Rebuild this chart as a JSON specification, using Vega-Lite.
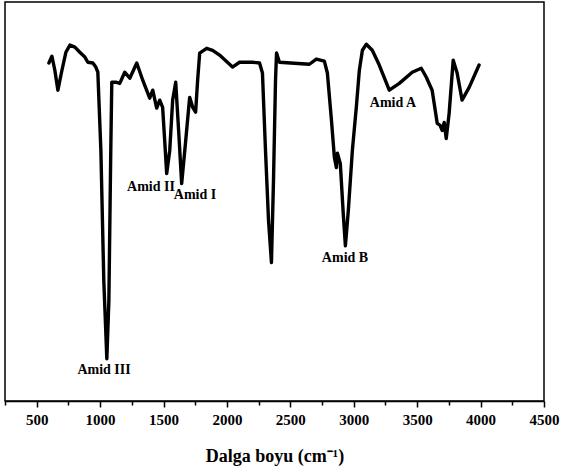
{
  "$schema": "https://vega.github.io/schema/vega-lite/v6.json",
  "width": 539,
  "height": 399,
  "autosize": {"type": "none"},
  "padding": {"left": 5, "top": 2, "right": 17, "bottom": 70},
  "background": "white",
  "config": {"view": {"stroke": "black", "strokeWidth": 1.5}},
  "datasets": {
    "spectrum": [
      {"wn": 596, "T": 84.7}, {"wn": 620, "T": 86.4}, {"wn": 643, "T": 82.9}, {"wn": 667, "T": 77.9},
      {"wn": 699, "T": 82.9}, {"wn": 730, "T": 87.4}, {"wn": 762, "T": 89.2}, {"wn": 801, "T": 88.7},
      {"wn": 840, "T": 87.4}, {"wn": 880, "T": 86.2}, {"wn": 903, "T": 84.9}, {"wn": 943, "T": 84.7},
      {"wn": 966, "T": 83.7}, {"wn": 982, "T": 82.4}, {"wn": 1006, "T": 62.8}, {"wn": 1029, "T": 30.2},
      {"wn": 1053, "T": 10.6}, {"wn": 1069, "T": 25.1}, {"wn": 1084, "T": 62.8}, {"wn": 1092, "T": 79.9},
      {"wn": 1124, "T": 79.9}, {"wn": 1155, "T": 79.6}, {"wn": 1194, "T": 82.4}, {"wn": 1234, "T": 80.9},
      {"wn": 1289, "T": 84.7}, {"wn": 1336, "T": 80.4}, {"wn": 1391, "T": 75.9}, {"wn": 1415, "T": 77.9},
      {"wn": 1446, "T": 73.4}, {"wn": 1470, "T": 75.4}, {"wn": 1493, "T": 73.6}, {"wn": 1509, "T": 65.3},
      {"wn": 1525, "T": 57.0}, {"wn": 1549, "T": 62.8}, {"wn": 1572, "T": 75.4}, {"wn": 1596, "T": 79.9},
      {"wn": 1619, "T": 67.8}, {"wn": 1643, "T": 54.5}, {"wn": 1675, "T": 65.3}, {"wn": 1706, "T": 76.1},
      {"wn": 1730, "T": 73.6}, {"wn": 1753, "T": 72.4}, {"wn": 1769, "T": 80.4}, {"wn": 1785, "T": 87.2},
      {"wn": 1840, "T": 88.4}, {"wn": 1887, "T": 87.9}, {"wn": 1942, "T": 86.7}, {"wn": 2044, "T": 83.7},
      {"wn": 2099, "T": 84.9}, {"wn": 2202, "T": 84.9}, {"wn": 2257, "T": 84.7}, {"wn": 2280, "T": 82.2},
      {"wn": 2304, "T": 62.8}, {"wn": 2328, "T": 45.2}, {"wn": 2351, "T": 34.7}, {"wn": 2367, "T": 55.3},
      {"wn": 2383, "T": 80.4}, {"wn": 2391, "T": 87.2}, {"wn": 2414, "T": 84.9}, {"wn": 2650, "T": 84.4},
      {"wn": 2705, "T": 85.7}, {"wn": 2768, "T": 85.2}, {"wn": 2792, "T": 82.2}, {"wn": 2824, "T": 70.4},
      {"wn": 2847, "T": 61.1}, {"wn": 2863, "T": 58.5}, {"wn": 2871, "T": 62.1}, {"wn": 2894, "T": 59.5},
      {"wn": 2918, "T": 46.5}, {"wn": 2934, "T": 38.9}, {"wn": 2957, "T": 47.7}, {"wn": 2989, "T": 62.8},
      {"wn": 3020, "T": 73.6}, {"wn": 3044, "T": 82.9}, {"wn": 3068, "T": 87.9}, {"wn": 3099, "T": 89.4},
      {"wn": 3146, "T": 87.9}, {"wn": 3201, "T": 84.2}, {"wn": 3280, "T": 77.9}, {"wn": 3359, "T": 79.6},
      {"wn": 3461, "T": 82.4}, {"wn": 3532, "T": 83.4}, {"wn": 3571, "T": 81.2}, {"wn": 3618, "T": 77.9},
      {"wn": 3658, "T": 69.6}, {"wn": 3681, "T": 69.1}, {"wn": 3697, "T": 67.8}, {"wn": 3713, "T": 69.8},
      {"wn": 3729, "T": 65.8}, {"wn": 3752, "T": 72.1}, {"wn": 3784, "T": 85.4}, {"wn": 3815, "T": 82.2},
      {"wn": 3854, "T": 75.4}, {"wn": 3910, "T": 78.6}, {"wn": 3988, "T": 84.2}
    ],
    "labels": [
      {"wn": 1031, "T": 7.8, "text": "Amid III"},
      {"wn": 1401, "T": 53.6, "text": "Amid II"},
      {"wn": 1748, "T": 51.6, "text": "Amid I"},
      {"wn": 2931, "T": 35.8, "text": "Amid B"},
      {"wn": 3309, "T": 74.7, "text": "Amid A"}
    ],
    "minor": [
      {"wn": 250}, {"wn": 750}, {"wn": 1250}, {"wn": 1750}, {"wn": 2250},
      {"wn": 2750}, {"wn": 3250}, {"wn": 3750}, {"wn": 4250}
    ]
  },
  "layer": [
    {
      "data": {"name": "spectrum"},
      "mark": {"type": "line", "color": "black", "strokeWidth": 3.4, "strokeJoin": "round", "strokeCap": "round", "clip": true},
      "encoding": {
        "x": {
          "field": "wn", "type": "quantitative",
          "scale": {"domain": [250, 4500], "nice": false, "zero": false},
          "axis": {
            "orient": "bottom",
            "values": [500, 1000, 1500, 2000, 2500, 3000, 3500, 4000, 4500],
            "format": "d",
            "tickSize": 6,
            "tickColor": "black", "tickWidth": 1.5,
            "domainColor": "black", "domainWidth": 1.5,
            "labelFont": "Liberation Serif", "labelFontWeight": "bold", "labelFontSize": 15, "labelColor": "black",
            "labelPadding": 5, "labelOverlap": false, "labelFlush": false, "labelBound": false,
            "grid": false,
            "title": "Dalga boyu (cm⁻¹)",
            "titleFont": "Liberation Serif", "titleFontWeight": "bold", "titleFontSize": 18, "titleColor": "black",
            "titlePadding": 20
          }
        },
        "y": {
          "field": "T", "type": "quantitative",
          "scale": {"domain": [0, 100], "nice": false, "zero": false},
          "axis": null
        }
      }
    },
    {
      "data": {"name": "labels"},
      "mark": {"type": "text", "font": "Liberation Serif", "fontWeight": "bold", "fontSize": 14, "color": "black", "align": "center", "baseline": "middle"},
      "encoding": {
        "x": {"field": "wn", "type": "quantitative", "axis": null},
        "y": {"field": "T", "type": "quantitative"},
        "text": {"field": "text"}
      }
    },
    {
      "data": {"name": "minor"},
      "mark": {"type": "point", "opacity": 0},
      "encoding": {
        "x": {
          "field": "wn", "type": "quantitative",
          "axis": {
            "orient": "bottom",
            "values": [250, 750, 1250, 1750, 2250, 2750, 3250, 3750, 4250],
            "labels": false, "domain": false, "grid": false, "title": null,
            "tickSize": 4, "tickColor": "black", "tickWidth": 1.5
          }
        }
      }
    }
  ],
  "resolve": {"axis": {"x": "independent"}}
}
